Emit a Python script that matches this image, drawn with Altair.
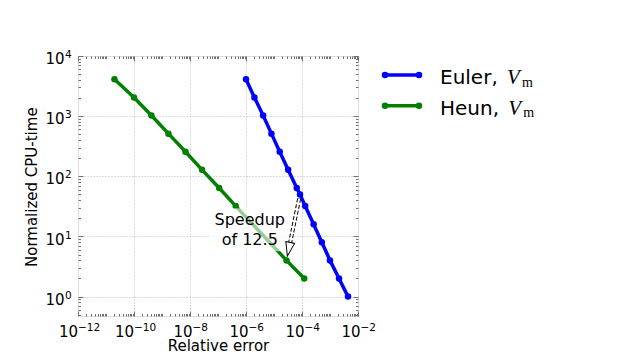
import json
import numpy as np
import pandas as pd
import altair as alt

# ---------------- data ----------------
euler_err = [1.0e-6, 2.0e-6, 4.1e-6, 8.1e-6, 1.6e-5, 3.2e-5, 6.5e-5, 8.5e-5,
             1.3e-4, 2.6e-4, 5.1e-4, 1.0e-3, 2.1e-3, 4.4e-3]
euler_cpu = [4096, 2048, 1024, 512, 256, 128, 64, 50, 32, 16, 8, 4, 2, 1]

heun_err = [2.0e-11, 1.0e-10, 4.2e-10, 1.7e-9, 6.9e-9, 2.7e-8, 1.1e-7, 4.3e-7,
            2.8e-5, 1.2e-4]
heun_cpu = [4096, 2048, 1024, 512, 256, 128, 64, 32, 4, 2]

series_names = ["Euler", "Heun"]
series_colors = ["#0000ff", "#008000"]

x_major = [1e-12, 1e-10, 1e-8, 1e-6, 1e-4, 1e-2]
x_major_exp = ["\u221212", "\u221210", "\u22128", "\u22126", "\u22124", "\u22122"]
y_major = [1, 10, 100, 1000, 10000]
y_major_exp = ["0", "1", "2", "3", "4"]

x_minor = [m * 10.0 ** k for k in range(-12, -2) for m in range(2, 10)] + \
          [10.0 ** k for k in (-11, -9, -7, -5, -3)]
y_minor = [m * 10.0 ** k for k in range(-1, 4) for m in range(2, 10)
           if 0.48 <= m * 10.0 ** k <= 1e4]

speedup_label = "Speedup\nof 12.5"
speedup_anchor = {"x": 1.36e-6, "y": 15.3}
label_box = {"x": 5.06e-8, "x2": 3.64e-5, "y": 29.4, "y2": 5.66}

# ---------------- styling ----------------
W, H = 280, 260
FRAME = "#707070"
GRID = "#b8b8b8"
FONT = "DejaVu Sans"

XS = alt.Scale(type="log", domain=[1e-12, 1e-2], nice=False)
YS = alt.Scale(type="log", domain=[0.476, 1e4], nice=False)

euler_df = pd.DataFrame({"x": euler_err, "y": euler_cpu})
heun_df = pd.DataFrame({"x": heun_err, "y": heun_cpu})


def X(axis=None):
    return alt.X("x:Q", scale=XS, axis=axis)


def Y(axis=None):
    return alt.Y("y:Q", scale=YS, axis=axis)


layers = []
for df, col in zip([euler_df, heun_df], series_colors):
    layers.append(alt.Chart(df).mark_line(color=col, strokeWidth=3.5)
                  .encode(x=X(), y=Y()))
    layers.append(alt.Chart(df).mark_point(color=col, filled=True, size=42, opacity=1)
                  .encode(x=X(), y=Y()))

# semi-transparent white box behind the annotation text
box_df = pd.DataFrame({k: [v] for k, v in label_box.items()})
layers.append(alt.Chart(box_df).mark_rect(color="white", opacity=0.6).encode(
    x=X(), x2="x2:Q", y=Y(), y2="y2:Q"))

txt_df = pd.DataFrame({"x": [speedup_anchor["x"]], "y": [speedup_anchor["y"]],
                       "t": [speedup_label]})
layers.append(alt.Chart(txt_df).mark_text(
    font=FONT, fontSize=16, align="center", baseline="alphabetic",
    lineBreak="\n", lineHeight=19.7, color="black").encode(
    x=X(), y=Y(), text="t:N"))

# arrow from Euler (cpu 50) to Heun (cpu 4)
e_pt = np.log10([euler_err[7], euler_cpu[7]])
h_pt = np.log10([heun_err[8], heun_cpu[8]])


def along(f):
    p = e_pt + f * (h_pt - e_pt)
    return 10 ** p


s, b, c = along(0.065), along(0.74), along(0.832)
shaft_df = pd.DataFrame({"x": [s[0]], "y": [s[1]], "x2": [b[0]], "y2": [b[1]]})
layers.append(alt.Chart(shaft_df).mark_rule(color="black", strokeWidth=4,
                                             strokeDash=[4, 2]).encode(
    x=X(), y=Y(), x2="x2:Q", y2="y2:Q"))
layers.append(alt.Chart(shaft_df).mark_rule(color="white", strokeWidth=2).encode(
    x=X(), y=Y(), x2="x2:Q", y2="y2:Q"))
head_df = pd.DataFrame({"x": [c[0]], "y": [c[1]]})
layers.append(alt.Chart(head_df).mark_point(
    shape="M-0.64,-1L0.64,-1L0,1Z", size=196, angle=12, filled=False,
    fill="white", fillOpacity=1, stroke="black", strokeWidth=1, opacity=1).encode(
    x=X(), y=Y()))

# ---------------- axes (carried by invisible layers) ----------------
x_cond_off = {"condition": {"test": "datum.value < 1e-9", "value": -0.5}, "value": 2}
grid_op_x = {"condition": {"test": "datum.value < 2e-12 || datum.value > 5e-3", "value": 0}, "value": 1}
grid_op_y = {"condition": {"test": "datum.value > 5e3", "value": 0}, "value": 1}

common = dict(domain=False, ticks=False, labelFlush=False, labelOverlap=False,
              labelColor="black", labelFont=FONT)

ax_x_base = alt.Axis(orient="bottom", values=x_major, labelExpr="'10'",
                     labelAlign="right", labelBaseline="alphabetic",
                     labelPadding=20.6, labelOffset=x_cond_off, labelFontSize=15,
                     grid=True, gridColor=GRID, gridDash=[1, 2], gridWidth=1,
                     gridOpacity=grid_op_x,
                     title="Relative error", titleFont=FONT, titleFontSize=15,
                     titleFontWeight="normal", titleColor="black", titleY=34.5,
                     titleBaseline="alphabetic", **common)
ax_y_base = alt.Axis(orient="left", values=y_major, labelExpr="'10'",
                     labelAlign="right", labelBaseline="alphabetic",
                     labelPadding=14, labelOffset=7.6, labelFontSize=15,
                     grid=True, gridColor=GRID, gridDash=[1, 2], gridWidth=1,
                     gridOpacity=grid_op_y,
                     title="Normalized CPU-time", titleFont=FONT, titleFontSize=15,
                     titleFontWeight="normal", titleColor="black", titleX=-41.3,
                     titleY=130.7, titleAngle=270, titleAlign="center",
                     titleBaseline="alphabetic", **common)
layers.append(alt.Chart(euler_df).mark_point(opacity=0).encode(
    x=X(ax_x_base), y=Y(ax_y_base)))

x_exp_expr = json.dumps(x_major_exp, ensure_ascii=False) + \
    "[round((log(datum.value)/LN10+12)/2)]"
y_exp_expr = json.dumps(y_major_exp, ensure_ascii=False) + \
    "[round(log(datum.value)/LN10)]"
ax_x_exp = alt.Axis(orient="bottom", values=x_major, labelExpr=x_exp_expr,
                    labelAlign="left", labelBaseline="alphabetic", labelPadding=14,
                    labelOffset=x_cond_off, labelFontSize=10.5, grid=False,
                    title=None, **common)
ax_y_exp = alt.Axis(orient="left", values=y_major, labelExpr=y_exp_expr,
                    labelAlign="left", labelBaseline="alphabetic", labelPadding=13.6,
                    labelOffset=1.6, labelFontSize=10.5, grid=False,
                    title=None, **common)
layers.append(alt.Chart(euler_df).mark_point(opacity=0).encode(
    x=X(ax_x_exp), y=Y(ax_y_exp)))

# inward ticks on all four sides: axes on the opposite edge, pointing inwards
for (xo, yo) in [("top", "right"), ("bottom", "left")]:
    for xv, yv, size in [(x_major, y_major, 5), (x_minor, y_minor, 2.5)]:
        ax_x = alt.Axis(orient=xo, offset=-H, values=xv, tickSize=size,
                        tickColor=FRAME, tickWidth=1, labels=False, domain=False,
                        grid=False, title=None)
        ax_y = alt.Axis(orient=yo, offset=-W, values=yv, tickSize=size,
                        tickColor=FRAME, tickWidth=1, labels=False, domain=False,
                        grid=False, title=None)
        layers.append(alt.Chart(euler_df).mark_point(opacity=0).encode(
            x=X(ax_x), y=Y(ax_y)))

# ---------------- legend (outside the plot, on the right) ----------------
one = pd.DataFrame({"k": [0]})
for i, (name, col) in enumerate(zip(series_names, series_colors)):
    yy = 19 + i * 30.7
    layers.append(alt.Chart(one).mark_rule(color=col, strokeWidth=3.5).encode(
        x=alt.value(307), x2=alt.value(341), y=alt.value(yy)))
    for xx in (307, 341):
        layers.append(alt.Chart(one).mark_point(color=col, filled=True, size=42,
                                                opacity=1).encode(
            x=alt.value(xx), y=alt.value(yy)))
    layers.append(alt.Chart(one).mark_text(
        text=name + ",", font=FONT, fontSize=20, align="left",
        baseline="alphabetic", color="black").encode(
        x=alt.value(362), y=alt.value(yy + 9)))
    layers.append(alt.Chart(one).mark_text(
        text="V", font="Liberation Serif", fontStyle="italic", fontSize=21,
        align="left", baseline="alphabetic", color="black").encode(
        x=alt.value(429 + i * 1.3), y=alt.value(yy + 9)))
    layers.append(alt.Chart(one).mark_text(
        text="m", font="Liberation Serif", fontSize=14, align="left",
        baseline="alphabetic", color="black").encode(
        x=alt.value(444 + i * 1.3), y=alt.value(yy + 11.5)))

chart = alt.layer(*layers).resolve_axis(x="independent", y="independent").properties(
    width=W, height=H,
    autosize=alt.AutoSizeParams(type="none"),
    padding={"left": 70, "top": 48, "right": 262, "bottom": 35},
).configure_view(stroke=FRAME, strokeWidth=1).configure(font=FONT)

chart.save("out.html", embed_options={"renderer": "svg", "actions": False})
